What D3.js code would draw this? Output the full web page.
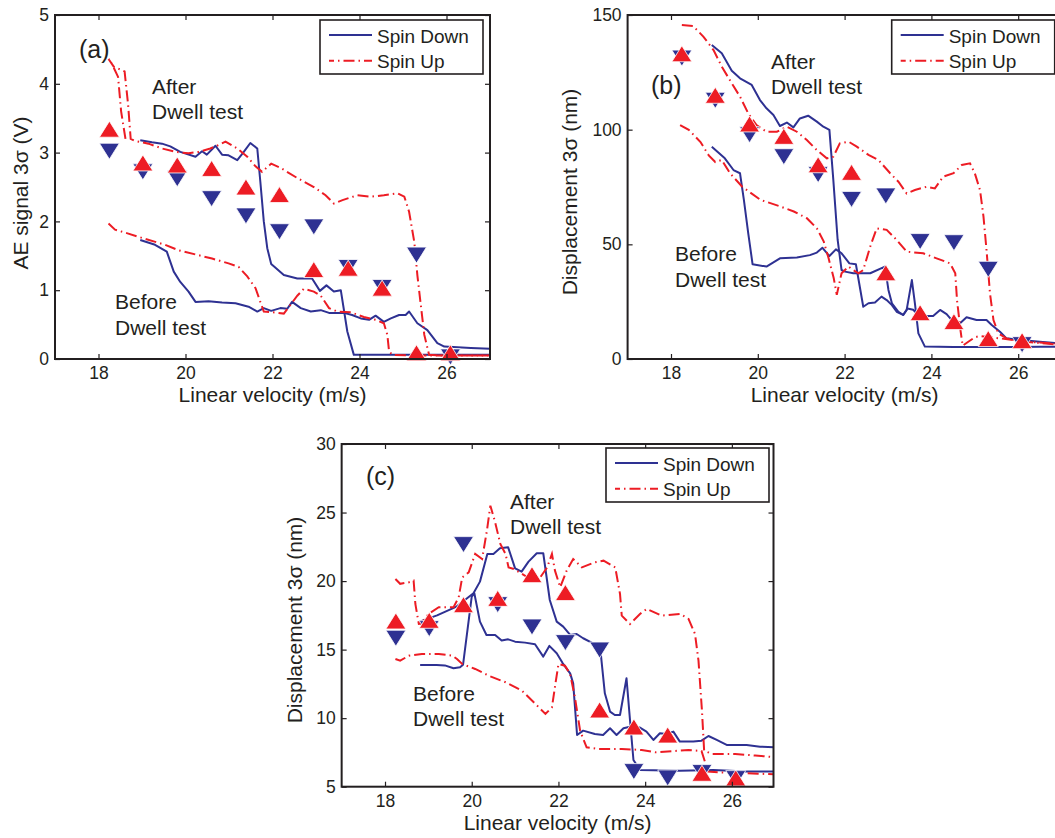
<!DOCTYPE html>
<html><head><meta charset="utf-8">
<script src="https://cdn.jsdelivr.net/npm/d3@7"></script>
<style>
body{margin:0;background:#fff}
svg{display:block}
text{font-family:"Liberation Sans",Arial,Helvetica,sans-serif;fill:#231f20}
</style>
</head><body>
<svg id="chart" width="1055" height="838"></svg>
<script>
// ---------- shared ----------
const xTicks = [18, 20, 22, 24, 26];
const markerX = [18.25, 19.02, 19.81, 20.6, 21.39, 22.16, 22.95, 23.74, 24.52, 25.31, 26.09];
const legendLabels = ["Spin Down", "Spin Up"];
const xLabel = "Linear velocity (m/s)";

// ---------- panel (a) : AE signal ----------
const aYTicks = [0, 1, 2, 3, 4, 5];
const aDownAfter = [[18.96,3.18],[19.23,3.15],[19.46,3.13],[19.65,3.09],[19.88,3.01],[20.23,2.94],[20.38,3.02],[20.49,2.97],[20.69,3.10],[20.84,2.97],[20.99,2.96],[21.19,2.89],[21.34,3.01],[21.49,3.14],[21.65,3.06],[21.72,2.58],[21.80,2.0],[21.88,1.61],[21.97,1.38],[22.26,1.22],[22.57,1.17],[22.91,1.17],[23.09,0.99],[23.24,1.07],[23.41,0.98],[23.57,1.0],[23.72,0.40],[23.87,0.06],[25.5,0.06],[27,0.06]];
const aDownBefore = [[18.96,1.73],[19.30,1.66],[19.57,1.56],[19.73,1.27],[19.88,1.12],[20.07,0.98],[20.23,0.83],[20.53,0.84],[20.84,0.82],[21.15,0.81],[21.45,0.76],[21.65,0.69],[21.80,0.74],[21.97,0.70],[22.18,0.74],[22.34,0.73],[22.45,0.83],[22.65,0.74],[22.88,0.69],[23.11,0.71],[23.30,0.67],[23.64,0.67],[23.83,0.64],[24.03,0.59],[24.22,0.57],[24.37,0.63],[24.56,0.54],[24.72,0.59],[24.91,0.64],[25.06,0.64],[25.14,0.69],[25.33,0.52],[25.56,0.42],[25.79,0.23],[25.95,0.18],[26.56,0.16],[27,0.15]];
const aUpAfter = [[18.62,3.2],[18.52,3.6],[18.45,4.1],[18.3,4.3],[18.23,4.36],[18.35,4.25],[18.6,4.18],[18.68,3.7],[18.74,3.2],[18.84,3.17],[19.15,3.13],[19.46,3.06],[19.77,3.01],[20.07,2.99],[20.30,3.01],[20.57,3.06],[20.76,3.11],[20.92,3.16],[21.19,3.06],[21.42,2.94],[21.61,2.80],[21.76,2.72],[21.97,2.84],[22.18,2.78],[22.57,2.63],[22.95,2.50],[23.22,2.38],[23.41,2.26],[23.61,2.31],[23.95,2.38],[24.26,2.36],[24.56,2.38],[24.87,2.41],[25.03,2.36],[25.14,2.14],[25.26,1.70],[25.33,1.22],[25.41,0.78],[25.49,0.35],[25.60,0.06],[25.95,0.05],[27,0.05]];
const aUpBefore = [[18.23,1.97],[18.38,1.88],[18.65,1.83],[19.0,1.76],[19.53,1.66],[19.84,1.58],[20.23,1.52],[20.61,1.46],[20.99,1.39],[21.22,1.34],[21.42,1.20],[21.61,1.03],[21.72,0.83],[21.80,0.69],[22.0,0.68],[22.26,0.66],[22.38,0.76],[22.57,0.92],[22.72,1.02],[22.95,0.98],[23.11,0.92],[23.30,0.74],[23.49,0.69],[23.80,0.68],[24.10,0.61],[24.37,0.57],[24.56,0.52],[24.64,0.35],[24.68,0.11],[24.76,0.06],[25.5,0.05],[27,0.05]];
const aDownMarks = [3.02, 2.72, 2.62, 2.33, 2.08, 1.85, 1.92, 1.33, 1.04, 1.51, 0.03];
const aUpMarks = [3.34, 2.85, 2.82, 2.77, 2.50, 2.39, 1.30, 1.32, 1.03, 0.09, 0.09];

// ---------- panel (b) : displacement ----------
const bYTicks = [0, 50, 100, 150];
const bDownAfter = [[18.94,136.9],[19.17,133.3],[19.40,125.7],[19.59,122.4],[19.86,119.5],[20.05,112.9],[20.20,109.3],[20.36,106.4],[20.51,101.6],[20.67,103.1],[20.82,101.0],[20.97,104.9],[21.16,106.1],[21.36,103.5],[21.51,101.3],[21.65,99.9],[21.74,78.1],[21.84,51.9],[21.93,38.8],[22.01,38.1],[22.20,37.4],[22.59,37.4],[22.93,40.3],[23.01,30.1],[23.09,24.3],[23.24,20.6],[23.35,19.2],[23.45,22.0],[23.58,21.5],[23.70,19.2],[23.89,18.8],[24.04,18.8],[24.20,21.4],[24.35,19.6],[24.50,16.3],[24.66,15.6],[24.81,18.2],[25.04,17.0],[25.27,17.0],[25.39,14.8],[25.58,11.9],[25.73,9.0],[26.04,8.3],[26.5,7.5],[27,6.8]];
const bDownBefore = [[18.94,92.6],[19.24,87.5],[19.44,82.4],[19.59,81.0],[19.68,69.3],[19.78,54.8],[19.88,41.3],[20.20,40.3],[20.51,43.9],[20.90,44.3],[21.20,45.3],[21.36,46.4],[21.49,48.5],[21.65,44.9],[21.80,47.8],[21.93,46.1],[22.11,41.7],[22.26,41.3],[22.43,22.8],[22.55,24.3],[22.70,24.6],[22.85,27.2],[22.97,25.7],[23.09,23.5],[23.20,20.6],[23.35,19.2],[23.43,21.4],[23.55,34.4],[23.62,24.3],[23.70,11.2],[23.85,5.4],[24.5,5.2],[25.5,5.2],[26.5,5.3],[27,5.4]];
const bUpAfter = [[18.25,145.6],[18.51,145.2],[18.75,140.5],[18.98,134.7],[19.17,127.5],[19.40,120.2],[19.59,114.4],[19.78,107.1],[19.97,102.0],[20.20,99.1],[20.44,99.1],[20.67,101.3],[20.90,99.1],[21.13,95.5],[21.36,91.1],[21.59,87.5],[21.74,88.2],[21.89,94.0],[22.09,94.8],[22.28,92.6],[22.55,89.0],[22.78,86.8],[23.05,81.0],[23.24,77.3],[23.43,72.2],[23.62,73.7],[23.89,75.1],[24.08,74.4],[24.27,79.5],[24.51,81.0],[24.70,84.6],[24.89,85.3],[25.00,81.0],[25.12,73.7],[25.20,62.1],[25.27,47.5],[25.35,28.6],[25.43,17.0],[25.54,11.2],[25.73,9.0],[26.12,7.6],[27,6.6]];
const bUpBefore = [[18.21,102.0],[18.41,99.9],[18.68,94.6],[18.87,88.8],[19.02,85.9],[19.17,86.8],[19.36,81.0],[19.64,75.1],[20.06,69.4],[20.52,66.5],[20.83,64.3],[21.13,61.4],[21.36,57.0],[21.52,51.2],[21.63,44.0],[21.75,35.2],[21.82,28.0],[21.93,37.4],[22.09,40.3],[22.20,38.8],[22.32,37.4],[22.43,38.8],[22.59,49.0],[22.74,57.0],[22.97,56.3],[23.20,51.9],[23.43,46.8],[23.81,46.1],[24.12,43.9],[24.43,41.7],[24.55,37.4],[24.59,25.7],[24.67,12.6],[24.72,5.8],[24.85,7.5],[25.0,9.5],[25.12,10.0],[25.58,9.0],[26.12,7.6],[27,6.1]];
const bDownMarks = [131.2, 112.8, 97.8, 88.2, 80.4, 69.6, 71.1, 51.2, 50.7, 39.1, 6.25];
const bUpMarks = [133.1, 115.0, 102.5, 97.1, 84.7, 81.4, 37.6, 20.2, 16.3, 8.9, 8.0];

// ---------- panel (c) : displacement ----------
const cYTicks = [5, 10, 15, 20, 25, 30];
const cDownAfter = [[18.80,17.04],[19.20,17.5],[19.65,18.14],[20.04,19.11],[20.19,19.96],[20.36,21.98],[20.50,21.98],[20.65,22.39],[20.84,22.46],[21.0,20.93],[21.15,20.69],[21.31,21.42],[21.50,22.03],[21.65,22.03],[21.80,18.62],[21.96,17.04],[22.11,16.68],[22.27,16.07],[22.42,16.14],[22.57,15.83],[22.80,15.46],[22.96,15.22],[23.07,11.81],[23.19,10.48],[23.30,10.23],[23.42,10.23],[23.57,12.91],[23.65,9.87],[23.73,6.95],[23.88,6.22],[24.80,6.17],[25.57,6.22],[26.34,6.10],[27,6.10]];
const cDownBefore = [[18.81,13.88],[19.19,13.88],[19.38,13.85],[19.58,13.64],[19.73,13.71],[19.80,13.9],[20.0,18.86],[20.06,19.11],[20.19,17.04],[20.34,16.07],[20.54,16.07],[20.69,15.66],[20.84,15.75],[21.0,15.58],[21.23,15.51],[21.46,15.39],[21.65,14.49],[21.79,15.27],[21.96,14.73],[22.10,14.00],[22.27,13.27],[22.34,12.54],[22.43,8.77],[22.57,9.09],[22.84,8.85],[23.03,8.77],[23.19,9.26],[23.34,8.77],[23.50,9.26],[23.65,9.38],[23.88,9.31],[24.03,9.02],[24.19,8.41],[24.34,8.90],[24.50,8.85],[24.65,9.02],[24.80,8.29],[25.11,8.29],[25.30,8.36],[25.46,8.70],[25.65,8.41],[25.88,8.05],[26.34,8.05],[26.65,7.92],[27,7.88]];
const cUpAfter = [[18.24,20.15],[18.35,19.8],[18.55,19.91],[18.66,20.03],[18.70,18.33],[18.78,16.87],[18.85,16.9],[19.0,17.6],[19.24,18.09],[19.58,18.09],[19.70,18.82],[19.78,20.27],[19.93,20.64],[20.08,21.98],[20.24,21.61],[20.35,23.68],[20.43,25.5],[20.54,24.29],[20.66,22.71],[20.78,21.98],[20.85,21.0],[20.97,20.88],[21.16,20.52],[21.35,20.15],[21.58,20.27],[21.74,21.0],[21.85,21.98],[21.92,20.76],[22.04,19.55],[22.19,20.76],[22.34,21.61],[22.54,21.0],[22.84,21.37],[23.04,21.49],[23.31,21.0],[23.42,19.06],[23.46,17.48],[23.65,16.87],[23.88,17.6],[24.04,17.97],[24.38,17.48],[24.81,17.6],[25.0,17.24],[25.15,16.14],[25.23,14.19],[25.31,10.55],[25.36,7.63],[25.54,7.39],[26.08,7.39],[26.54,7.27],[27,7.15]];
const cUpBefore = [[18.24,14.32],[18.35,14.19],[18.55,14.56],[18.85,14.68],[19.24,14.68],[19.55,14.56],[19.66,14.32],[19.78,13.95],[20.08,13.59],[20.39,13.10],[20.78,12.62],[21.16,12.0],[21.43,11.16],[21.70,10.31],[21.85,10.79],[21.93,12.5],[22.0,13.95],[22.15,13.83],[22.27,13.22],[22.38,11.52],[22.5,9.08],[22.65,7.87],[22.92,7.75],[23.46,7.75],[23.92,7.68],[24.23,7.51],[25.0,7.68],[25.30,7.6],[25.38,6.8],[25.45,6.1],[25.7,6.05],[26.2,6.0],[26.6,5.95],[27,5.9]];
const cDownMarks = [15.83, 16.53, 22.66, 18.28, 16.65, 15.51, 14.97, 6.10, 5.64, 6.03, 5.59];
const cUpMarks = [17.09, 17.14, 18.28, 18.74, 20.47, 19.16, 10.60, 9.36, 8.77, 5.98, 5.64];

// ---------- styles ----------
const BLUE = "#2e3192", RED = "#ed1c24", INK = "#231f20";
const svg = d3.select("#chart");
const defs = svg.append("defs");

function triPath(cx, cy, up) {
  const hw = 10, hh = 8;
  return up
    ? `M${cx},${cy - hh}L${cx + hw},${cy + hh}L${cx - hw},${cy + hh}Z`
    : `M${cx},${cy + hh}L${cx + hw},${cy - hh}L${cx - hw},${cy - hh}Z`;
}

function drawPanel(p, idx) {
  const x = d3.scaleLinear().domain(p.xDomain).range([p.left, p.right]);
  const y = d3.scaleLinear().domain(p.yDomain).range([p.bottom, p.top]);
  const g = svg.append("g");
  const clipId = "clip" + idx;
  defs.append("clipPath").attr("id", clipId).append("rect")
    .attr("x", p.left).attr("y", p.top).attr("width", p.right - p.left).attr("height", p.bottom - p.top);

  const line = d3.line().x(d => x(d[0])).y(d => y(d[1]));
  const lg = g.append("g").attr("clip-path", `url(#${clipId})`);
  [p.downAfter, p.downBefore].forEach(s => lg.append("path").attr("d", line(s))
    .attr("fill", "none").attr("stroke", BLUE).attr("stroke-width", 2).attr("stroke-linejoin", "round"));
  [p.upAfter, p.upBefore].forEach(s => lg.append("path").attr("d", line(s))
    .attr("fill", "none").attr("stroke", RED).attr("stroke-width", 2)
    .attr("stroke-dasharray", "11,4,1.5,4"));

  // markers
  const mg = g.append("g");
  mg.selectAll("path.dn").data(markerX.map((v, i) => [v, p.downMarks[i]])).join("path")
    .attr("class", "dn").attr("d", d => triPath(x(d[0]), y(d[1]), false))
    .attr("fill", BLUE).attr("stroke", "#fff").attr("stroke-width", 0.8);
  mg.selectAll("path.up").data(markerX.map((v, i) => [v, p.upMarks[i]])).join("path")
    .attr("class", "up").attr("d", d => triPath(x(d[0]), y(d[1]), true))
    .attr("fill", RED).attr("stroke", "#fff").attr("stroke-width", 0.8);

  // axes (ticks inside on all four sides)
  const fs = "17.5px";
  const ax = [
    g.append("g").attr("transform", `translate(0,${p.bottom})`).call(d3.axisBottom(x).tickValues(xTicks).tickSize(-5).tickPadding(8).tickFormat(d3.format("d"))),
    g.append("g").attr("transform", `translate(${p.left},0)`).call(d3.axisLeft(y).tickValues(p.yTicks).tickSize(-5).tickPadding(6).tickFormat(d3.format("d"))),
    g.append("g").attr("transform", `translate(0,${p.top})`).call(d3.axisTop(x).tickValues(xTicks).tickSize(-5).tickFormat("")),
    g.append("g").attr("transform", `translate(${p.right},0)`).call(d3.axisRight(y).tickValues(p.yTicks).tickSize(-5).tickFormat(""))
  ];
  ax.forEach(a => {
    a.select(".domain").remove();
    a.selectAll("line").attr("stroke", INK).attr("stroke-width", 1.2);
    a.selectAll("text").attr("font-size", fs).attr("fill", INK)
      .style("font-family", '"Liberation Sans",Arial,sans-serif');
  });
  g.append("rect").attr("x", p.left).attr("y", p.top)
    .attr("width", p.right - p.left).attr("height", p.bottom - p.top)
    .attr("fill", "none").attr("stroke", INK).attr("stroke-width", 2);

  // axis labels
  g.append("text").attr("x", (p.left + p.right) / 2).attr("y", p.bottom + 43)
    .attr("text-anchor", "middle").attr("font-size", "21px").text(xLabel);
  g.append("text").attr("transform", `translate(${p.yLabelX},${p.yLabelY}) rotate(-90)`)
    .attr("text-anchor", "middle").attr("font-size", "21px").text(p.yLabel);

  // annotations
  g.append("text").attr("x", p.tag[0]).attr("y", p.tag[1]).attr("font-size", "25px").text(p.tagText);
  const ann = [["After", p.after[0], p.after[1]], ["Dwell test", p.after[0], p.after[1] + 24.5],
               ["Before", p.before[0], p.before[1]], ["Dwell test", p.before[0], p.before[1] + 25.5]];
  ann.forEach(a => g.append("text").attr("x", a[1]).attr("y", a[2]).attr("font-size", "21px").text(a[0]));

  // legend
  const L = p.legend;
  const leg = g.append("g");
  leg.append("rect").attr("x", L[0]).attr("y", L[1]).attr("width", 163).attr("height", 54)
    .attr("fill", "#fff").attr("stroke", INK).attr("stroke-width", 1.6);
  leg.append("line").attr("x1", L[0] + 9).attr("x2", L[0] + 52).attr("y1", L[1] + 15).attr("y2", L[1] + 15)
    .attr("stroke", BLUE).attr("stroke-width", 2);
  leg.append("line").attr("x1", L[0] + 9).attr("x2", L[0] + 52).attr("y1", L[1] + 40.7).attr("y2", L[1] + 40.7)
    .attr("stroke", RED).attr("stroke-width", 2).attr("stroke-dasharray", "11,4,1.5,4").attr("stroke-dashoffset", 6);
  legendLabels.forEach((t, i) => leg.append("text").attr("x", L[0] + 57).attr("y", L[1] + 22.5 + i * 25)
    .attr("font-size", "19px").text(t));
}

const panels = [
  { left: 55, right: 490, top: 15, bottom: 359, xDomain: [17, 27], yDomain: [0, 5], yTicks: aYTicks,
    downAfter: aDownAfter, downBefore: aDownBefore, upAfter: aUpAfter, upBefore: aUpBefore,
    downMarks: aDownMarks, upMarks: aUpMarks, yLabel: "AE signal 3σ (V)", yLabelX: 28, yLabelY: 193,
    tag: [79, 58], tagText: "(a)", after: [152, 94], before: [115, 309], legend: [320, 20] },
  { left: 627.6, right: 1061.6, top: 15, bottom: 359, xDomain: [17, 27], yDomain: [0, 150], yTicks: bYTicks,
    downAfter: bDownAfter, downBefore: bDownBefore, upAfter: bUpAfter, upBefore: bUpBefore,
    downMarks: bDownMarks, upMarks: bUpMarks, yLabel: "Displacement 3σ (nm)", yLabelX: 577, yLabelY: 192,
    tag: [651, 94], tagText: "(b)", after: [771, 69], before: [675, 261], legend: [891.7, 20] },
  { left: 341.65, right: 773.5, top: 444, bottom: 786.7, xDomain: [17, 26.96], yDomain: [5, 30], yTicks: cYTicks,
    downAfter: cDownAfter, downBefore: cDownBefore, upAfter: cUpAfter, upBefore: cUpBefore,
    downMarks: cDownMarks, upMarks: cUpMarks, yLabel: "Displacement 3σ (nm)", yLabelX: 302, yLabelY: 620,
    tag: [366, 485], tagText: "(c)", after: [510, 509], before: [413, 700.5], legend: [606, 448] }
];
panels.forEach(drawPanel);
</script>
</body></html>
